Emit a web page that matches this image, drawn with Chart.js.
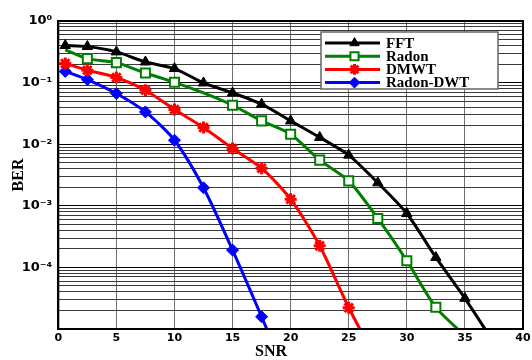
<!DOCTYPE html>
<html><head><meta charset="utf-8">
<script src="https://cdn.jsdelivr.net/npm/chart.js@4.4.1/dist/chart.umd.min.js"></script>
<style>html,body{margin:0;padding:0;background:#fff;}canvas{display:block;}</style>
</head><body>
<canvas id="c" width="532" height="360"></canvas>
<script>
// ---- data ----
const snr = [0.6, 2.5, 5, 7.5, 10, 12.5, 15, 17.5, 20, 22.5, 25, 27.5, 30, 32.5, 35, 37.5];
const berFFT      = [0.40, 0.385, 0.315, 0.216, 0.169, 0.0987, 0.068, 0.0446, 0.0239, 0.0129, 0.00664, 0.00236, 7.5e-4, 1.45e-4, 3.15e-5, 6e-6];
const berRadon    = [0.341, 0.245, 0.211, 0.143, 0.101, 0.068, 0.0429, 0.0239, 0.0145, 0.00551, 0.00254, 6.24e-4, 1.28e-4, 2.25e-5, 7.8e-6];
const berDMWT     = [0.204, 0.159, 0.121, 0.0752, 0.0366, 0.0187, 0.00852, 0.00408, 0.00128, 2.24e-4, 2.21e-5, 2.9e-6];
const berRadonDWT = [0.152, 0.112, 0.0665, 0.0334, 0.0116, 0.00196, 1.91e-4, 1.58e-5, 1.2e-6];
const radonHiddenMarkers = [0, 5];   // marker indices not visible in the reference
const seriesNames = ['FFT', 'Radon', 'DMWT', 'Radon-DWT'];
const yTickLabels = ['10\u2070', '10\u207B\u00B9', '10\u207B\u00B2', '10\u207B\u00B3', '10\u207B\u2074'];
const yDecades = [0, -1, -2, -3, -4, -5];
const xTickStep = 5;
const xTitle = 'SNR';
const yTitle = 'BER';

const pts = (arr) => arr.map((v, i) => ({x: snr[i], y: v}));

// minor/major log grid positions
const yGridValues = [];
for (const d of yDecades) {
  if (d === 0) { yGridValues.push(1); continue; }
  for (let m = 1; m <= 9; m++) yGridValues.push(parseFloat(m + 'e' + d));
}
yGridValues.sort((a, b) => a - b);
const isDecade = (v) => Math.abs(Math.log10(v) - Math.round(Math.log10(v))) < 1e-9;

const framePlugin = {
  id: 'frame',
  afterDraw(chart) {
    const {ctx, chartArea: a} = chart;
    ctx.save();
    ctx.strokeStyle = '#000';
    ctx.lineWidth = 2;
    ctx.strokeRect(a.left, a.top, a.right - a.left, a.bottom - a.top);
    ctx.restore();
  }
};

const boxLegend = {
  id: 'boxLegend',
  afterDraw(chart) {
    const {ctx, chartArea: a} = chart;
    const bx = a.right - 202, by = a.top + 11, bw = 177, bh = 57;
    ctx.save();
    ctx.fillStyle = '#fff';
    ctx.fillRect(bx, by, bw, bh);
    ctx.strokeStyle = '#666';
    ctx.lineWidth = 1.5;
    ctx.strokeRect(bx, by, bw, bh);
    chart.data.datasets.forEach((ds, i) => {
      const yy = by + 11 + i * 13.2;
      const x0 = bx + 4, x1 = bx + 59;
      ctx.strokeStyle = ds.borderColor;
      ctx.lineWidth = 3;
      ctx.beginPath(); ctx.moveTo(x0, yy); ctx.lineTo(x1, yy); ctx.stroke();
      ctx.fillStyle = ds.pointBackgroundColor;
      ctx.strokeStyle = ds.pointBorderColor;
      ctx.lineWidth = ds.pointBorderWidth;
      const r = Array.isArray(ds.pointRadius) ? Math.max(...ds.pointRadius) : ds.pointRadius;
      Chart.helpers.drawPoint(ctx, {pointStyle: ds.pointStyle, radius: r * 0.9, borderWidth: ds.pointBorderWidth, rotation: 0}, (x0 + x1) / 2 + 2, yy);
      ctx.fillStyle = '#000';
      ctx.font = 'bold 15px "Liberation Serif", "Times New Roman", serif';
      ctx.textBaseline = 'middle';
      ctx.textAlign = 'left';
      ctx.fillText(ds.label, bx + 65, yy + 1);
    });
    ctx.restore();
  }
};

function mk(label, data, color, style, radius, bg, bw) {
  return {
    label, data: pts(data),
    borderColor: color, borderWidth: 3,
    pointStyle: style, pointRadius: radius,
    pointBackgroundColor: bg, pointBorderColor: color, pointBorderWidth: bw,
    pointHoverRadius: radius,
    tension: 0.25,
    clip: 0, fill: false
  };
}

const radonRadius = berRadon.map((v, i) => radonHiddenMarkers.includes(i) ? 0 : 6.4);

new Chart(document.getElementById('c'), {
  type: 'line',
  data: {
    datasets: [
      mk(seriesNames[0], berFFT, '#000000', 'triangle', 6, '#000000', 1),
      mk(seriesNames[1], berRadon, '#008000', 'rect', radonRadius, '#ffffff', 2),
      mk(seriesNames[2], berDMWT, '#ff0000', 'star', 6, '#ff0000', 3),
      mk(seriesNames[3], berRadonDWT, '#0000ff', 'rectRot', 6, '#0000ff', 1)
    ]
  },
  options: {
    responsive: false,
    animation: false,
    layout: {padding: {left: 17, right: 7, top: 21, bottom: 0}},
    plugins: {
      legend: {display: false},
      tooltip: {enabled: false},
      title: {
        display: true, position: 'bottom', text: xTitle, color: '#000',
        font: {family: '"Liberation Serif", "Times New Roman", serif', size: 16, weight: 'bold', lineHeight: 1},
        padding: 0
      }
    },
    scales: {
      x: {
        type: 'linear', min: 0, max: 40,
        ticks: {stepSize: xTickStep, color: '#000', padding: 3,
          font: {family: '"DejaVu Sans", Verdana, sans-serif', size: 11, weight: 'bold'}},
        grid: {color: '#707070', lineWidth: 1, drawTicks: false},
        border: {color: '#000', width: 2},
        afterFit(s) { s.height = 15; s.paddingLeft = 0; s.paddingRight = 0; }
      },
      y: {
        type: 'logarithmic', min: 1e-5, max: 1,
        afterBuildTicks(s) { s.ticks = yGridValues.map(v => ({value: v, major: isDecade(v)})); },
        ticks: {
          autoSkip: false, color: '#000', padding: 6,
          font: {family: '"DejaVu Sans", Verdana, sans-serif', size: 13, weight: 'bold'},
          callback(v) {
            if (!isDecade(v)) return '';
            const e = -Math.round(Math.log10(v));
            return e < yTickLabels.length ? yTickLabels[e] : '';
          }
        },
        grid: {
          color: (c) => (c.tick && isDecade(c.tick.value)) ? '#000' : '#3a3a3a',
          lineWidth: 1, drawTicks: false
        },
        border: {color: '#000', width: 2},
        title: {
          display: true, text: yTitle, color: '#000',
          font: {family: '"Liberation Serif", "Times New Roman", serif', size: 16, weight: 'bold', lineHeight: 1},
          padding: {top: -6, bottom: 0}
        },
        afterFit(s) { s.width = 41.3; s.paddingTop = 0; s.paddingBottom = 0; }
      }
    }
  },
  plugins: [framePlugin, boxLegend]
});
</script>
</body></html>
